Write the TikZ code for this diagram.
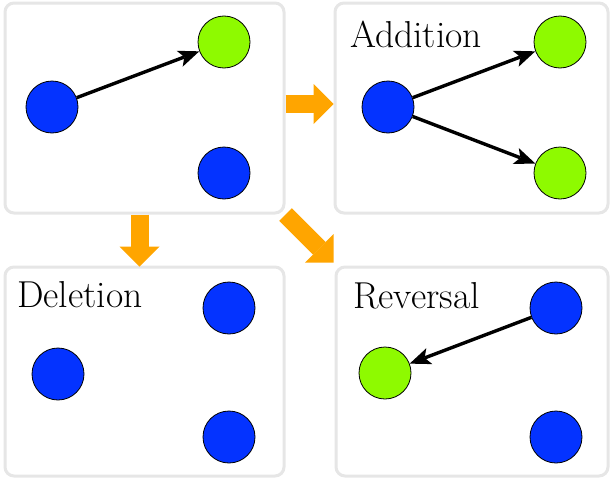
\documentclass[tikz,border=0pt]{standalone}
\usetikzlibrary{arrows.meta}
\definecolor{nodeblue}{HTML}{0433FF}
\definecolor{nodegreen}{HTML}{8EFA00}
\definecolor{bigorange}{HTML}{FFA500}
\definecolor{panelgray}{HTML}{E6E6E6}
\begin{document}
\begin{tikzpicture}[x=1pt,y=-1pt,
  panel/.style={draw=panelgray, line width=3pt, rounded corners=9pt, fill=white, inner sep=0pt},
  bnode/.style={circle, draw=black, line width=0.8pt, fill=nodeblue, minimum size=52pt, inner sep=0pt},
  gnode/.style={circle, draw=black, line width=0.8pt, fill=nodegreen, minimum size=52pt, inner sep=0pt},
  edge/.style={line width=3.4pt, -{Stealth[length=21pt,width=17pt,inset=5pt,line width=0pt 0]}},
  bigarrow/.style={draw=bigorange, line width=18pt, -{Triangle[length=20pt,width=40pt,line width=0pt 0]}},
  label/.style={anchor=base west, inner sep=0pt, font=\fontsize{37.5}{42}\selectfont}]
\useasboundingbox (0,0) rectangle (610,479);
% panels
\node[panel, minimum width=279pt, minimum height=210pt] (p1) at (144.5,108) {};
\node[panel, minimum width=273pt, minimum height=210pt] (p2) at (471.5,108) {};
\node[panel, minimum width=279pt, minimum height=209pt] (p3) at (144.5,371.5) {};
\node[panel, minimum width=272pt, minimum height=209pt] (p4) at (472,371.5) {};
% labels
\node[label] (t2) at (350,47) {Addition};
\node[label] (t3) at (17,307) {Deletion};
\node[label] (t4) at (353,308) {Reversal};
% panel 1
\node[bnode] (a1) at (52,107) {};
\node[gnode] (a2) at (224,42) {};
\node[bnode] (a3) at (224,173) {};
\draw[edge] (a1) -- (a2);
% panel 2
\node[bnode] (b1) at (388,107) {};
\node[gnode] (b2) at (560,42) {};
\node[gnode] (b3) at (560,173) {};
\draw[edge] (b1) -- (b2);
\draw[edge] (b1) -- (b3);
% panel 3
\node[bnode] (c1) at (58,374) {};
\node[bnode] (c2) at (229,308) {};
\node[bnode] (c3) at (229,437) {};
% panel 4
\node[gnode] (d1) at (385,373) {};
\node[bnode] (d2) at (556,308) {};
\node[bnode] (d3) at (556,437) {};
\draw[edge] (d2) -- (d1);
% orange arrows
\draw[bigarrow] ([yshift=4pt]p1.east) -- ([yshift=4pt]p2.west);
\draw[bigarrow] ([xshift=-5pt]p1.south) -- ([xshift=-5pt,yshift=-1pt]p3.north);
\draw[bigarrow] (p1.south east) -- ([xshift=-1pt,yshift=3pt]p4.north west);
\end{tikzpicture}
\end{document}
